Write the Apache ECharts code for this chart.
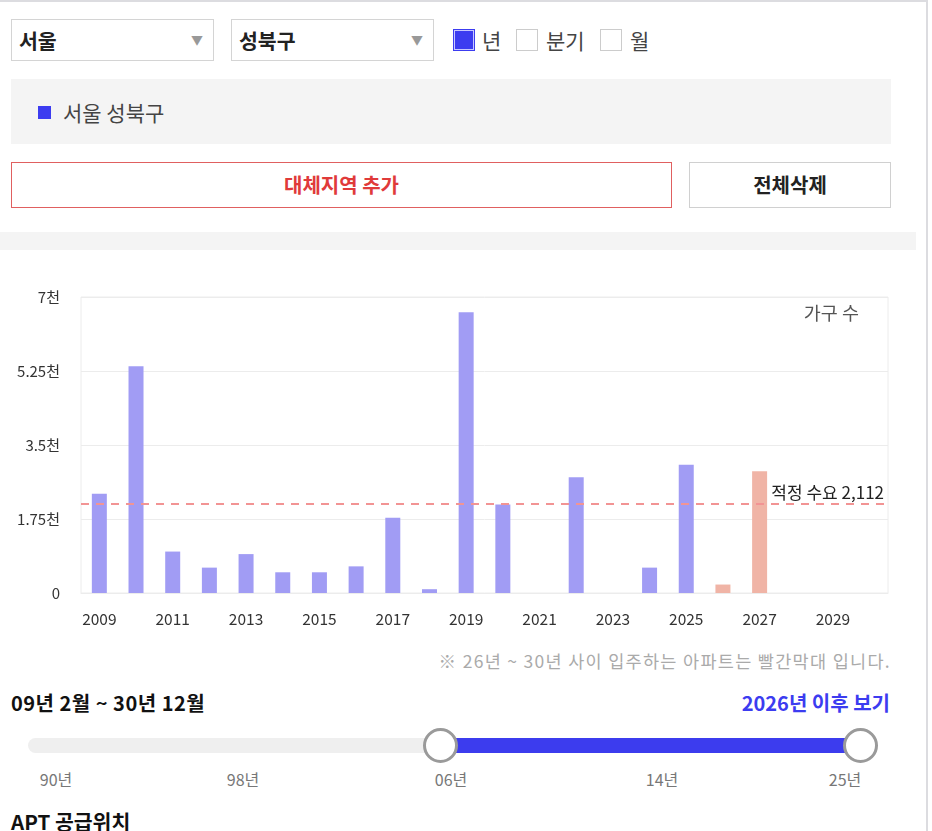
<!DOCTYPE html>
<html>
<head>
<meta charset="utf-8">
<script src="https://cdn.jsdelivr.net/npm/echarts@6/dist/echarts.min.js"></script>
<style>
  html, body { margin:0; padding:0; background:#fff; }
  body { width:932px; height:831px; overflow:hidden; position:relative;
         font-family:"Noto Sans CJK KR","Noto Sans",sans-serif; color:#333; }
  .abs { position:absolute; }
  .sel { border:1px solid #d4d4d4; box-sizing:border-box; height:42px; background:#fff; }
  .sel .t { position:absolute; left:7px; top:0; line-height:40px; font-size:20.5px; font-weight:bold; color:#222; }
  .sel .a { position:absolute; right:10px; top:0; line-height:40px; font-size:12px; color:#999; }
  .cb { width:22px; height:22px; box-sizing:border-box; border:1px solid #ccc; background:#fff; }
  .cbon { background:#3c3cf0; border:1px solid #3c3cf0; box-shadow: inset 0 0 0 1px #c8c8ff; }
  .lbl { font-size:21px; color:#444; line-height:24px; }
  .btn { box-sizing:border-box; height:46px; line-height:44px; text-align:center; font-size:20px; font-weight:bold; }
  .tick { font-size:16px; color:#777; width:60px; text-align:center; margin-left:-30px; }
  .knob { width:35px; height:35px; box-sizing:border-box; border:3px solid #9a9a9a; border-radius:50%; background:#fff; margin-left:-17.5px; margin-top:-17.5px; }
</style>
</head>
<body>
<div class="abs" style="left:0;top:0;width:928px;height:2px;background:#dcdce0;"></div>
<div class="abs" style="left:926px;top:0;width:2px;height:831px;background:#dcdce0;"></div>

<div class="abs sel" style="left:11px;top:19px;width:203px;"><span class="t">서울</span><span class="a">▼</span></div>
<div class="abs sel" style="left:231px;top:19px;width:203px;"><span class="t">성북구</span><span class="a">▼</span></div>

<div class="abs cb cbon" style="left:453px;top:29px;"></div>
<div class="abs lbl" style="left:482px;top:28px;">년</div>
<div class="abs cb" style="left:516px;top:29px;"></div>
<div class="abs lbl" style="left:546px;top:28px;">분기</div>
<div class="abs cb" style="left:600px;top:29px;"></div>
<div class="abs lbl" style="left:630px;top:28px;">월</div>

<div class="abs" style="left:11px;top:79px;width:880px;height:65px;background:#f4f4f4;"></div>
<div class="abs" style="left:38px;top:106px;width:13px;height:13px;background:#3c3cf0;"></div>
<div class="abs lbl" style="left:63px;top:100px;">서울 성북구</div>

<div class="abs btn" style="left:11px;top:162px;width:661px;border:1px solid #e06060;color:#e03a3a;">대체지역 추가</div>
<div class="abs btn" style="left:689px;top:162px;width:202px;border:1px solid #d0d0d0;color:#222;">전체삭제</div>

<div class="abs" style="left:0;top:232px;width:916px;height:18px;background:#f4f4f4;"></div>

<div id="chart" class="abs" style="left:0;top:270px;width:916px;height:370px;"></div>

<div class="abs" style="right:41px;top:650px;font-size:17.5px;letter-spacing:1.3px;color:#aaa;line-height:22px;">※ 26년 ~ 30년 사이 입주하는 아파트는 빨간막대 입니다.</div>
<div class="abs" style="left:11px;top:691px;font-size:20px;font-weight:bold;color:#111;line-height:24px;letter-spacing:0.5px;">09년 2월 ~ 30년 12월</div>
<div class="abs" style="right:42px;top:691px;font-size:20px;font-weight:bold;color:#3c3cf0;line-height:24px;">2026년 이후 보기</div>

<div class="abs" style="left:28px;top:738px;width:832px;height:15px;border-radius:8px;background:#efefef;"></div>
<div class="abs" style="left:440px;top:738px;width:420px;height:15px;background:#3c3cee;"></div>
<div class="abs knob" style="left:440px;top:745px;"></div>
<div class="abs knob" style="left:860px;top:745px;"></div>
<div class="abs tick" style="left:56px;top:767px;">90년</div>
<div class="abs tick" style="left:243px;top:767px;">98년</div>
<div class="abs tick" style="left:451px;top:767px;">06년</div>
<div class="abs tick" style="left:662px;top:767px;">14년</div>
<div class="abs tick" style="left:845px;top:767px;">25년</div>

<div class="abs" style="left:11px;top:809px;font-size:20.5px;font-weight:bold;color:#111;line-height:24px;">APT 공급위치</div>

<script>
// ---- data ----
const years = ['2009','2010','2011','2012','2013','2014','2015','2016','2017','2018','2019',
               '2020','2021','2022','2023','2024','2025','2026','2027','2028','2029','2030'];
const households = [2350, 5360, 980, 600, 920, 490, 490, 630, 1780, 90, 6640,
                    2090, 0, 2740, 0, 600, 3030, 200, 2880, 0, 0, 0];
const futureStartYear = 2026;
const demandLevel = 2112;
const demandLabel = '적정 수요 2,112';
const yTicks = [0, 1750, 3500, 5250, 7000];
const unitTitle = '가구 수';

const chart = echarts.init(document.getElementById('chart'));
const FONT = '"Noto Sans CJK KR","Noto Sans",sans-serif';
chart.setOption({
  animation: false,
  textStyle: { fontFamily: FONT },
  grid: { left: 81, top: 27, width: 807, height: 296, show: true, borderColor: '#ececec', borderWidth: 1 },
  graphic: [{
    type: 'text', right: 57, top: 34,
    style: { text: unitTitle, fontSize: 18.5, fill: '#555', fontFamily: FONT }
  }],
  xAxis: {
    type: 'category', data: years,
    axisLine: { lineStyle: { color: '#ececec' } },
    axisTick: { show: false },
    axisLabel: { interval: 1, color: '#333', fontSize: 15.5, margin: 18, fontFamily: FONT }
  },
  yAxis: {
    type: 'value', min: yTicks[0], max: yTicks[yTicks.length - 1], interval: yTicks[1] - yTicks[0],
    axisLine: { show: false }, axisTick: { show: false },
    splitLine: { lineStyle: { color: '#ececec' } },
    axisLabel: { color: '#333', fontSize: 15, margin: 21, fontFamily: FONT,
      formatter: v => v === 0 ? '0' : (v / 1000) + '천' }
  },
  series: [{
    type: 'bar', data: households, barWidth: 15,
    itemStyle: {
      color: p => (+years[p.dataIndex] >= futureStartYear) ? '#f0b4a6' : '#a19cf4'
    },
    markLine: {
      silent: true, symbol: 'none',
      lineStyle: { color: '#f29494', type: [8, 7], width: 2 },
      label: { position: 'insideEndTop', formatter: demandLabel, color: '#222', fontSize: 17, fontFamily: FONT, distance: [4, 3] },
      data: [{ yAxis: demandLevel }]
    }
  }]
});
</script>
</body>
</html>
